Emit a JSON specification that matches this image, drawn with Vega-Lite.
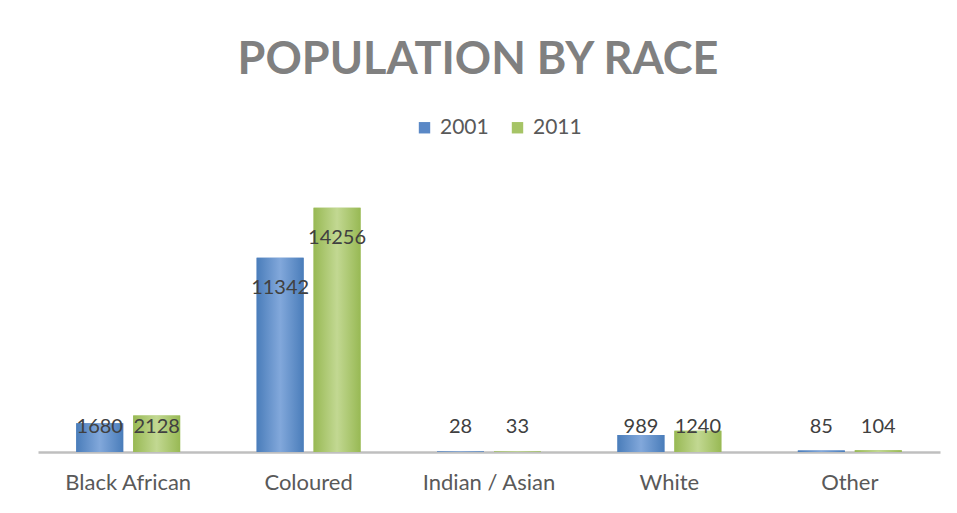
{
  "$schema": "https://vega.github.io/schema/vega-lite/v6.json",
  "width": 902,
  "height": 274,
  "autosize": {"type": "none"},
  "padding": {"left": 38, "top": 178, "right": 17, "bottom": 61},
  "background": "white",
  "title": {
    "text": "POPULATION BY RACE",
    "font": "Lato",
    "fontSize": 45,
    "fontWeight": "bold",
    "color": "#808080",
    "anchor": "middle",
    "offset": 34,
    "dx": -11
  },
  "data": {
    "values": [
      {"race": "Black African", "year": "2001", "value": 1680},
      {"race": "Black African", "year": "2011", "value": 2128},
      {"race": "Coloured", "year": "2001", "value": 11342},
      {"race": "Coloured", "year": "2011", "value": 14256},
      {"race": "Indian / Asian", "year": "2001", "value": 28},
      {"race": "Indian / Asian", "year": "2011", "value": 33},
      {"race": "White", "year": "2001", "value": 989},
      {"race": "White", "year": "2011", "value": 1240},
      {"race": "Other", "year": "2001", "value": 85},
      {"race": "Other", "year": "2011", "value": 104}
    ]
  },
  "encoding": {
    "x": {
      "field": "race",
      "type": "nominal",
      "sort": ["Black African", "Coloured", "Indian / Asian", "White", "Other"],
      "scale": {"paddingInner": 0.424, "paddingOuter": 0.212},
      "axis": {
        "title": null,
        "labelAngle": 0,
        "ticks": false,
        "grid": false,
        "domainColor": "#bfbfbf",
        "domainWidth": 2.5,
        "labelFont": "Lato",
        "labelFontSize": 22,
        "labelColor": "#595959",
        "labelPadding": 20
      }
    },
    "xOffset": {
      "field": "year",
      "type": "nominal",
      "scale": {"paddingInner": 0.175, "paddingOuter": 0}
    },
    "y": {
      "field": "value",
      "type": "quantitative",
      "scale": {"domain": [0, 16000]},
      "axis": null
    }
  },
  "layer": [
    {
      "mark": {"type": "bar"},
      "encoding": {
        "color": {
          "field": "year",
          "type": "nominal",
          "scale": {"domain": ["2001", "2011"], "range": ["#5a88c6", "#a6c466"]},
          "legend": {
            "orient": "none",
            "legendX": 376,
            "legendY": -61,
            "direction": "horizontal",
            "title": null,
            "symbolType": "square",
            "symbolSize": 130,
            "labelFont": "Lato",
            "labelFontSize": 21,
            "labelColor": "#595959",
            "labelOffset": 5,
            "columnPadding": 18
          }
        }
      }
    },
    {
      "transform": [{"filter": "datum.year == '2001'"}],
      "mark": {
        "type": "bar",
        "color": {"gradient": "linear", "x1": 0, "y1": 0, "x2": 1, "y2": 0, "stops": [{"offset": 0, "color": "#4a7dba"}, {"offset": 0.5, "color": "#82a8db"}, {"offset": 1, "color": "#4a7dba"}]}
      }
    },
    {
      "transform": [{"filter": "datum.year == '2011'"}],
      "mark": {
        "type": "bar",
        "color": {"gradient": "linear", "x1": 0, "y1": 0, "x2": 1, "y2": 0, "stops": [{"offset": 0, "color": "#98b954"}, {"offset": 0.5, "color": "#c2d892"}, {"offset": 1, "color": "#98b954"}]}
      }
    },
    {
      "transform": [{"calculate": "max(datum.value - 1750, 1460)", "as": "labelY"}],
      "mark": {"type": "text", "font": "Lato", "fontSize": 20, "color": "#404040", "baseline": "middle"},
      "encoding": {
        "y": {"field": "labelY", "type": "quantitative"},
        "text": {"field": "value", "type": "quantitative", "format": "d"}
      }
    }
  ],
  "config": {"view": {"stroke": null}}
}
